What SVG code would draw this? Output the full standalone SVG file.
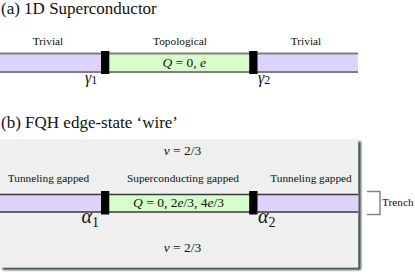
<svg xmlns="http://www.w3.org/2000/svg" width="415" height="274" viewBox="0 0 415 274">
<style>
text{font-family:"Times New Roman","Liberation Serif",Times,"DejaVu Serif",serif;fill:#111}
.lbl{font-size:11.3px;text-anchor:middle}
.title{font-size:17px}
.math{font-size:13.5px}
.it{font-style:italic}
.triv{fill:#ddd3fd}
.topo{fill:#d6fdca}
.blk{fill:#000}
.lineA{stroke:#7f7f7f;stroke-width:2;fill:none}
.lineB{stroke:#3a3a3a;stroke-width:1.3;fill:none}
</style>
<defs>
<filter id="sh" x="-5%" y="-5%" width="110%" height="110%"><feGaussianBlur stdDeviation="0.8"/></filter>
</defs>
<g id="panel-a">
<text class="title" x="1" y="14">(a) 1D Superconductor</text>
<g id="wire-a">
<rect class="triv" x="0" y="53.5" width="101" height="18.5"/>
<rect class="topo" x="109" y="53.5" width="140" height="18.5"/>
<rect class="triv" x="257" y="53.5" width="101" height="18.5"/>
<path class="lineA" d="M0,53.5H358M0,72H358"/>
</g>
<g id="trivial-left"><text class="lbl" x="48" y="45">Trivial</text></g>
<g id="topological"><text class="lbl" x="180" y="45">Topological</text><text class="math" x="206" y="67" text-anchor="end"><tspan class="it">Q</tspan> = 0, <tspan class="it">e</tspan></text></g>
<g id="trivial-right"><text class="lbl" x="306" y="45">Trivial</text></g>
<g id="gamma1"><rect class="blk" x="101" y="51" width="8.3" height="23"/><text x="85" y="83" font-size="16"><tspan class="it">γ</tspan><tspan font-size="12" dy="1">1</tspan></text></g>
<g id="gamma2"><rect class="blk" x="249.2" y="51" width="8.3" height="23"/><text x="258" y="83" font-size="16"><tspan class="it">γ</tspan><tspan font-size="12" dy="1">2</tspan></text></g>
</g>
<g id="panel-b">
<text class="title" x="1" y="128">(b) FQH edge-state ‘wire’</text>
<g id="fqh-region">
<rect x="2.5" y="141.5" width="358.5" height="128.5" fill="#3f4d4f" filter="url(#sh)"/>
<rect x="-1" y="139.3" width="359.3" height="128.4" fill="#efefef"/>
<text class="math" x="182.5" y="155" text-anchor="middle"><tspan class="it">ν</tspan> = 2/3</text>
<text class="math" x="182.5" y="252" text-anchor="middle"><tspan class="it">ν</tspan> = 2/3</text>
</g>
<g id="wire-b">
<rect class="triv" x="0" y="194.5" width="101" height="17.5"/>
<rect class="topo" x="109" y="194.5" width="140" height="17.5"/>
<rect class="triv" x="257" y="194.5" width="101.3" height="17.5"/>
<path class="lineB" d="M0,194.5H358.3M0,212H358.3"/>
</g>
<g id="tunneling-left"><text class="lbl" x="48.5" y="182">Tunneling gapped</text></g>
<g id="superconducting"><text class="lbl" x="183" y="182">Superconducting gapped</text><text class="math" x="178.5" y="207" text-anchor="middle"><tspan class="it">Q</tspan> = 0, 2<tspan class="it">e</tspan>/3, 4<tspan class="it">e</tspan>/3</text></g>
<g id="tunneling-right"><text class="lbl" x="311" y="182">Tunneling gapped</text></g>
<g id="alpha1"><rect class="blk" x="101" y="191" width="8.3" height="23.5"/><text x="81.5" y="223" font-size="20"><tspan class="it">α</tspan><tspan font-size="14" dy="4">1</tspan></text></g>
<g id="alpha2"><rect class="blk" x="249.2" y="191" width="8.3" height="23.5"/><text x="258" y="223" font-size="20"><tspan class="it">α</tspan><tspan font-size="14" dy="4">2</tspan></text></g>
</g>
<g id="connectors">
<path d="M367,191.5H380V214.5H367" stroke="#858585" stroke-width="1.5" fill="none"/>
</g>
<g id="trench"><text x="382" y="206" font-size="11.3">Trench</text></g>
</svg>
